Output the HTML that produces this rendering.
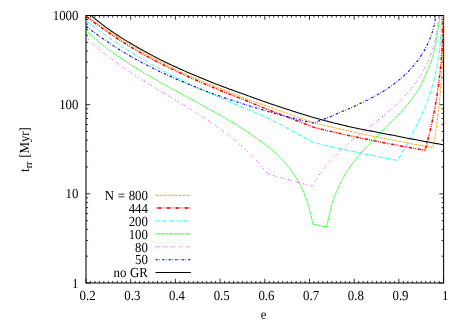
<!DOCTYPE html>
<html><head><meta charset="utf-8"><title>plot</title>
<style>
html,body{margin:0;padding:0;background:#fff;width:463px;height:324px;overflow:hidden}
.t{font-family:"Liberation Serif",serif;font-size:13.8px;text-rendering:geometricPrecision;word-spacing:0.55px;fill:#000}
</style></head><body>
<svg width="463" height="324" viewBox="0 0 463 324" style="position:absolute;left:0;top:0;will-change:transform">
<rect x="0" y="0" width="463" height="324" fill="#fff"/>
<defs><clipPath id="c"><rect x="86.0" y="15.5" width="357.6" height="267.5"/></clipPath></defs>
<path d="M155.5 195.3 L190.9 195.3" fill="none" stroke="#ffa500" stroke-width="1.0" stroke-dasharray="2.8 1.1" />
<text transform="translate(147.90 200.00) scale(0.93 1)" text-anchor="end" class="t">N = 800</text>
<path d="M155.2 207.9 H190.9" stroke="#ff0000" stroke-opacity="0.28" stroke-width="1.9" fill="none"/>
<path d="M155.2 207.9 H190.9" stroke="#ff0000" stroke-width="1.5" stroke-dasharray="3.4 5.6" stroke-dashoffset="6.4" fill="none"/>
<text transform="translate(147.90 212.60) scale(0.93 1)" text-anchor="end" class="t">444</text>
<path d="M155.5 221.05 L190.9 221.05" fill="none" stroke="#00ffff" stroke-width="1.0" stroke-dasharray="3.9 1.25 0.7 1.23" />
<text transform="translate(147.90 225.75) scale(0.93 1)" text-anchor="end" class="t">200</text>
<path d="M155.5 233.9 L190.9 233.9" fill="none" stroke="#00ff00" stroke-width="0.9" stroke-dasharray="2.0 0.7" />
<text transform="translate(147.90 238.60) scale(0.93 1)" text-anchor="end" class="t">100</text>
<path d="M155.5 246.8 L190.9 246.8" fill="none" stroke="#ff00ff" stroke-width="0.95" stroke-dasharray="0.9 1.7 0.9 4.3" />
<text transform="translate(147.90 251.50) scale(0.93 1)" text-anchor="end" class="t">80</text>
<path d="M155.5 259.7 L190.9 259.7" fill="none" stroke="#0000ff" stroke-width="1.1" stroke-dasharray="2.5 1.3 0.7 2.0" />
<text transform="translate(147.90 264.40) scale(0.93 1)" text-anchor="end" class="t">50</text>
<path d="M155.5 272.45 L190.9 272.45" fill="none" stroke="#000000" stroke-width="1.05"  />
<text transform="translate(147.90 277.15) scale(0.93 1)" text-anchor="end" class="t">no GR</text>
<path d="M86.0 15.0 V283.5 M443.6 15.0 V283.5 M85.5 15.5 H444.1 M85.5 283.0 H444.1" fill="none" stroke="#000" stroke-width="1.05"/>
<path d="M86.00 283.0 v-4.2 M86.00 15.5 v4.2 M90.47 283.0 v-2.1 M90.47 15.5 v2.1 M94.94 283.0 v-2.1 M94.94 15.5 v2.1 M99.41 283.0 v-2.1 M99.41 15.5 v2.1 M103.88 283.0 v-2.1 M103.88 15.5 v2.1 M108.35 283.0 v-2.1 M108.35 15.5 v2.1 M112.82 283.0 v-2.1 M112.82 15.5 v2.1 M117.29 283.0 v-2.1 M117.29 15.5 v2.1 M121.76 283.0 v-2.1 M121.76 15.5 v2.1 M126.23 283.0 v-2.1 M126.23 15.5 v2.1 M130.70 283.0 v-4.2 M130.70 15.5 v4.2 M135.17 283.0 v-2.1 M135.17 15.5 v2.1 M139.64 283.0 v-2.1 M139.64 15.5 v2.1 M144.11 283.0 v-2.1 M144.11 15.5 v2.1 M148.58 283.0 v-2.1 M148.58 15.5 v2.1 M153.05 283.0 v-2.1 M153.05 15.5 v2.1 M157.52 283.0 v-2.1 M157.52 15.5 v2.1 M161.99 283.0 v-2.1 M161.99 15.5 v2.1 M166.46 283.0 v-2.1 M166.46 15.5 v2.1 M170.93 283.0 v-2.1 M170.93 15.5 v2.1 M175.40 283.0 v-4.2 M175.40 15.5 v4.2 M179.87 283.0 v-2.1 M179.87 15.5 v2.1 M184.34 283.0 v-2.1 M184.34 15.5 v2.1 M188.81 283.0 v-2.1 M188.81 15.5 v2.1 M193.28 283.0 v-2.1 M193.28 15.5 v2.1 M197.75 283.0 v-2.1 M197.75 15.5 v2.1 M202.22 283.0 v-2.1 M202.22 15.5 v2.1 M206.69 283.0 v-2.1 M206.69 15.5 v2.1 M211.16 283.0 v-2.1 M211.16 15.5 v2.1 M215.63 283.0 v-2.1 M215.63 15.5 v2.1 M220.10 283.0 v-4.2 M220.10 15.5 v4.2 M224.57 283.0 v-2.1 M224.57 15.5 v2.1 M229.04 283.0 v-2.1 M229.04 15.5 v2.1 M233.51 283.0 v-2.1 M233.51 15.5 v2.1 M237.98 283.0 v-2.1 M237.98 15.5 v2.1 M242.45 283.0 v-2.1 M242.45 15.5 v2.1 M246.92 283.0 v-2.1 M246.92 15.5 v2.1 M251.39 283.0 v-2.1 M251.39 15.5 v2.1 M255.86 283.0 v-2.1 M255.86 15.5 v2.1 M260.33 283.0 v-2.1 M260.33 15.5 v2.1 M264.80 283.0 v-4.2 M264.80 15.5 v4.2 M269.27 283.0 v-2.1 M269.27 15.5 v2.1 M273.74 283.0 v-2.1 M273.74 15.5 v2.1 M278.21 283.0 v-2.1 M278.21 15.5 v2.1 M282.68 283.0 v-2.1 M282.68 15.5 v2.1 M287.15 283.0 v-2.1 M287.15 15.5 v2.1 M291.62 283.0 v-2.1 M291.62 15.5 v2.1 M296.09 283.0 v-2.1 M296.09 15.5 v2.1 M300.56 283.0 v-2.1 M300.56 15.5 v2.1 M305.03 283.0 v-2.1 M305.03 15.5 v2.1 M309.50 283.0 v-4.2 M309.50 15.5 v4.2 M313.97 283.0 v-2.1 M313.97 15.5 v2.1 M318.44 283.0 v-2.1 M318.44 15.5 v2.1 M322.91 283.0 v-2.1 M322.91 15.5 v2.1 M327.38 283.0 v-2.1 M327.38 15.5 v2.1 M331.85 283.0 v-2.1 M331.85 15.5 v2.1 M336.32 283.0 v-2.1 M336.32 15.5 v2.1 M340.79 283.0 v-2.1 M340.79 15.5 v2.1 M345.26 283.0 v-2.1 M345.26 15.5 v2.1 M349.73 283.0 v-2.1 M349.73 15.5 v2.1 M354.20 283.0 v-4.2 M354.20 15.5 v4.2 M358.67 283.0 v-2.1 M358.67 15.5 v2.1 M363.14 283.0 v-2.1 M363.14 15.5 v2.1 M367.61 283.0 v-2.1 M367.61 15.5 v2.1 M372.08 283.0 v-2.1 M372.08 15.5 v2.1 M376.55 283.0 v-2.1 M376.55 15.5 v2.1 M381.02 283.0 v-2.1 M381.02 15.5 v2.1 M385.49 283.0 v-2.1 M385.49 15.5 v2.1 M389.96 283.0 v-2.1 M389.96 15.5 v2.1 M394.43 283.0 v-2.1 M394.43 15.5 v2.1 M398.90 283.0 v-4.2 M398.90 15.5 v4.2 M403.37 283.0 v-2.1 M403.37 15.5 v2.1 M407.84 283.0 v-2.1 M407.84 15.5 v2.1 M412.31 283.0 v-2.1 M412.31 15.5 v2.1 M416.78 283.0 v-2.1 M416.78 15.5 v2.1 M421.25 283.0 v-2.1 M421.25 15.5 v2.1 M425.72 283.0 v-2.1 M425.72 15.5 v2.1 M430.19 283.0 v-2.1 M430.19 15.5 v2.1 M434.66 283.0 v-2.1 M434.66 15.5 v2.1 M439.13 283.0 v-2.1 M439.13 15.5 v2.1 M443.60 283.0 v-4.2 M443.60 15.5 v4.2 M86.0 283.00 h4.2 M443.6 283.00 h-4.2 M86.0 256.16 h2.1 M443.6 256.16 h-2.1 M86.0 240.46 h2.1 M443.6 240.46 h-2.1 M86.0 229.32 h2.1 M443.6 229.32 h-2.1 M86.0 220.68 h2.1 M443.6 220.68 h-2.1 M86.0 213.61 h2.1 M443.6 213.61 h-2.1 M86.0 207.65 h2.1 M443.6 207.65 h-2.1 M86.0 202.47 h2.1 M443.6 202.47 h-2.1 M86.0 197.91 h2.1 M443.6 197.91 h-2.1 M86.0 193.83 h4.2 M443.6 193.83 h-4.2 M86.0 166.99 h2.1 M443.6 166.99 h-2.1 M86.0 151.29 h2.1 M443.6 151.29 h-2.1 M86.0 140.15 h2.1 M443.6 140.15 h-2.1 M86.0 131.51 h2.1 M443.6 131.51 h-2.1 M86.0 124.45 h2.1 M443.6 124.45 h-2.1 M86.0 118.48 h2.1 M443.6 118.48 h-2.1 M86.0 113.31 h2.1 M443.6 113.31 h-2.1 M86.0 108.75 h2.1 M443.6 108.75 h-2.1 M86.0 104.67 h4.2 M443.6 104.67 h-4.2 M86.0 77.82 h2.1 M443.6 77.82 h-2.1 M86.0 62.12 h2.1 M443.6 62.12 h-2.1 M86.0 50.98 h2.1 M443.6 50.98 h-2.1 M86.0 42.34 h2.1 M443.6 42.34 h-2.1 M86.0 35.28 h2.1 M443.6 35.28 h-2.1 M86.0 29.31 h2.1 M443.6 29.31 h-2.1 M86.0 24.14 h2.1 M443.6 24.14 h-2.1 M86.0 19.58 h2.1 M443.6 19.58 h-2.1 M86.0 15.50 h4.2 M443.6 15.50 h-4.2" stroke="#000" stroke-width="0.8" fill="none"/>
<g clip-path="url(#c)">
<path d="M86.50 16.30 L87.71 17.14 L88.92 17.98 L90.14 18.82 L91.35 19.65 L92.56 20.47 L93.77 21.29 L94.99 22.11 L96.20 22.92 L97.41 23.72 L98.62 24.52 L99.84 25.32 L101.05 26.11 L102.26 26.89 L103.47 27.67 L104.68 28.44 L105.90 29.26 L107.11 30.08 L108.32 30.89 L109.53 31.71 L110.75 32.51 L111.96 33.32 L113.17 34.11 L114.38 34.90 L115.60 35.69 L116.81 36.48 L118.02 37.25 L119.23 38.03 L120.44 38.80 L121.66 39.56 L122.87 40.32 L124.08 41.07 L125.29 41.82 L126.51 42.57 L127.72 43.31 L128.93 44.05 L130.14 44.78 L131.36 45.51 L132.57 46.23 L133.78 46.95 L134.99 47.66 L136.20 48.37 L137.42 49.07 L138.63 49.77 L139.84 50.46 L141.05 51.15 L142.27 51.83 L143.48 52.51 L144.69 53.19 L145.90 53.86 L147.11 54.53 L148.33 55.20 L149.54 55.86 L150.75 56.51 L151.96 57.17 L153.18 57.82 L154.39 58.46 L155.60 59.10 L156.81 59.74 L158.03 60.37 L159.24 61.00 L160.45 61.63 L161.66 62.25 L162.87 62.87 L164.09 63.49 L165.30 64.11 L166.51 64.76 L167.72 65.40 L168.94 66.04 L170.15 66.68 L171.36 67.31 L172.57 67.94 L173.79 68.56 L175.00 69.19 L176.21 69.81 L177.42 70.42 L178.63 71.04 L179.85 71.65 L181.06 72.19 L182.27 72.73 L183.48 73.26 L184.70 73.79 L185.91 74.31 L187.12 74.83 L188.33 75.35 L189.55 75.87 L190.76 76.38 L191.97 76.90 L193.18 77.41 L194.39 77.91 L195.61 78.42 L196.82 78.92 L198.03 79.42 L199.24 79.92 L200.46 80.41 L201.67 80.91 L202.88 81.40 L204.09 81.89 L205.31 82.38 L206.52 82.86 L207.73 83.34 L208.94 83.83 L210.15 84.31 L211.37 84.78 L212.58 85.26 L213.79 85.73 L215.00 86.20 L216.22 86.71 L217.43 87.21 L218.64 87.71 L219.85 88.21 L221.07 88.71 L222.28 89.21 L223.49 89.70 L224.70 90.19 L225.91 90.69 L227.13 91.18 L228.34 91.67 L229.55 92.15 L230.76 92.64 L231.98 93.13 L233.19 93.61 L234.40 94.09 L235.61 94.58 L236.83 95.06 L238.04 95.54 L239.25 96.01 L240.46 96.49 L241.67 96.97 L242.89 97.44 L244.10 97.92 L245.31 98.38 L246.52 98.82 L247.74 99.26 L248.95 99.70 L250.16 100.14 L251.37 100.57 L252.59 101.01 L253.80 101.44 L255.01 101.87 L256.22 102.31 L257.43 102.74 L258.65 103.17 L259.86 103.60 L261.07 104.03 L262.28 104.46 L263.50 104.89 L264.71 105.32 L265.92 105.74 L267.13 106.17 L268.34 106.60 L269.56 107.04 L270.77 107.48 L271.98 107.93 L273.19 108.37 L274.41 108.81 L275.62 109.24 L276.83 109.68 L278.04 110.12 L279.26 110.56 L280.47 111.00 L281.68 111.43 L282.89 111.87 L284.10 112.31 L285.32 112.74 L286.53 113.18 L287.74 113.61 L288.95 114.04 L290.17 114.48 L291.38 114.91 L292.59 115.34 L293.80 115.77 L295.02 116.21 L296.23 116.64 L297.44 117.07 L298.65 117.49 L299.86 117.90 L301.08 118.31 L302.29 118.72 L303.50 119.13 L304.71 119.55 L305.93 119.95 L307.14 120.36 L308.35 120.77 L309.56 121.18 L310.78 121.59 L311.99 121.99 L313.20 122.40 L314.42 122.73 L315.65 123.06 L316.87 123.38 L318.09 123.71 L319.32 124.03 L320.54 124.36 L321.76 124.68 L322.99 125.00 L324.21 125.32 L325.43 125.64 L326.66 125.96 L327.88 126.27 L329.11 126.55 L330.33 126.83 L331.55 127.11 L332.78 127.38 L334.00 127.66 L335.22 127.93 L336.45 128.20 L337.67 128.47 L338.89 128.74 L340.12 129.01 L341.34 129.27 L342.56 129.54 L343.79 129.80 L345.01 130.07 L346.23 130.35 L347.46 130.63 L348.68 130.91 L349.90 131.19 L351.13 131.47 L352.35 131.75 L353.57 132.02 L354.80 132.30 L356.02 132.57 L357.24 132.84 L358.47 133.11 L359.69 133.39 L360.92 133.65 L362.14 133.92 L363.36 134.19 L364.59 134.45 L365.81 134.72 L367.03 134.98 L368.26 135.24 L369.48 135.51 L370.70 135.77 L371.93 136.02 L373.15 136.28 L374.37 136.54 L375.60 136.79 L376.82 137.03 L378.04 137.28 L379.27 137.52 L380.49 137.76 L381.71 138.00 L382.94 138.24 L384.16 138.47 L385.38 138.71 L386.61 138.95 L387.83 139.18 L389.06 139.41 L390.28 139.64 L391.50 139.87 L392.73 140.10 L393.95 140.33 L395.17 140.56 L396.40 140.80 L397.62 141.05 L398.84 141.29 L400.07 141.53 L401.29 141.77 L402.51 142.01 L403.74 142.25 L404.96 142.48 L406.18 142.72 L407.41 142.95 L408.63 143.18 L409.85 143.42 L411.08 143.65 L412.30 143.88 L413.52 144.10 L414.75 144.33 L415.97 144.56 L417.19 144.78 L418.42 145.01 L419.64 145.23 L420.87 145.45 L422.09 145.67 L423.31 145.89 L424.54 146.11 L425.76 146.32 L426.98 146.54 L428.21 146.75 L429.43 146.97 L430.65 147.18 L431.88 147.39 L433.10 147.60 L433.31 146.41 L433.53 145.21 L433.74 144.02 L433.94 142.82 L434.14 141.62 L434.35 140.43 L434.54 139.23 L434.74 138.03 L434.93 136.83 L435.12 135.64 L435.31 134.44 L435.49 133.24 L435.67 132.04 L435.85 130.84 L436.03 129.64 L436.20 128.44 L436.38 127.24 L436.55 126.04 L436.71 124.84 L436.88 123.64 L437.04 122.44 L437.20 121.24 L437.35 120.03 L437.51 118.83 L437.66 117.63 L437.81 116.43 L437.96 115.22 L438.10 114.02 L438.24 112.81 L438.38 111.61 L438.52 110.41 L438.66 109.20 L438.79 108.00 L438.92 106.79 L439.05 105.59 L439.17 104.38 L439.30 103.17 L439.42 101.97 L439.54 100.76 L439.66 99.56 L439.77 98.35 L439.89 97.14 L440.00 95.93 L440.11 94.73 L440.21 93.52 L440.32 92.31 L440.42 91.10 L440.52 89.90 L440.62 88.69 L440.72 87.48 L440.81 86.27 L440.91 85.06 L441.00 83.85 L441.09 82.64 L441.17 81.43 L441.26 80.22 L441.34 79.01 L441.42 77.80 L441.50 76.59 L441.58 75.38 L441.66 74.17 L441.73 72.96 L441.80 71.75 L441.87 70.54 L441.94 69.33 L442.01 68.12 L442.08 66.91 L442.14 65.70 L442.20 64.49 L442.26 63.28 L442.32 62.06 L442.38 60.85 L442.43 59.64 L442.49 58.43 L442.54 57.22 L442.59 56.01 L442.64 54.79 L442.69 53.58 L442.73 52.37 L442.78 51.16 L442.82 49.94 L442.86 48.73 L442.90 47.52 L442.94 46.31 L442.98 45.10 L443.02 43.88 L443.05 42.67 L443.08 41.46 L443.12 40.25 L443.15 39.03 L443.18 37.82 L443.20 36.61 L443.23 35.40 L443.26 34.18 L443.28 32.97 L443.30 31.76 L443.33 30.55 L443.35 29.33 L443.37 28.12 L443.38 26.91 L443.40 25.70 L443.42 24.48 L443.43 23.27 L443.45 22.06 L443.46 20.85 L443.47 19.64 L443.48 18.42 L443.49 17.21 L443.50 16.00" fill="none" stroke="#ffa500" stroke-width="1.0" stroke-dasharray="2.8 1.1" />
<path d="M86.50 16.50 L87.71 17.46 L88.92 18.42 L90.14 19.36 L91.35 20.29 L92.56 21.21 L93.77 22.13 L94.99 23.03 L96.20 23.92 L97.41 24.80 L98.62 25.68 L99.84 26.54 L101.05 27.40 L102.26 28.25 L103.47 29.09 L104.68 29.92 L105.90 30.77 L107.11 31.64 L108.32 32.49 L109.53 33.33 L110.75 34.17 L111.96 35.00 L113.17 35.83 L114.38 36.64 L115.60 37.45 L116.81 38.25 L118.02 39.05 L119.23 39.84 L120.44 40.62 L121.66 41.40 L122.87 42.17 L124.08 42.93 L125.29 43.69 L126.51 44.44 L127.72 45.19 L128.93 45.93 L130.14 46.66 L131.36 47.39 L132.57 48.12 L133.78 48.84 L134.99 49.55 L136.20 50.26 L137.42 50.96 L138.63 51.66 L139.84 52.35 L141.05 53.03 L142.27 53.72 L143.48 54.39 L144.69 55.07 L145.90 55.74 L147.11 56.40 L148.33 57.06 L149.54 57.72 L150.75 58.37 L151.96 59.01 L153.18 59.66 L154.39 60.29 L155.60 60.93 L156.81 61.56 L158.03 62.18 L159.24 62.81 L160.45 63.43 L161.66 64.04 L162.87 64.66 L164.09 65.27 L165.30 65.87 L166.51 66.48 L167.72 67.08 L168.94 67.68 L170.15 68.27 L171.36 68.86 L172.57 69.45 L173.79 70.04 L175.00 70.62 L176.21 71.20 L177.42 71.78 L178.63 72.35 L179.85 72.93 L181.06 73.49 L182.27 74.04 L183.48 74.60 L184.70 75.15 L185.91 75.70 L187.12 76.25 L188.33 76.79 L189.55 77.33 L190.76 77.87 L191.97 78.41 L193.18 78.95 L194.39 79.48 L195.61 80.01 L196.82 80.54 L198.03 81.07 L199.24 81.60 L200.46 82.12 L201.67 82.64 L202.88 83.16 L204.09 83.68 L205.31 84.19 L206.52 84.71 L207.73 85.22 L208.94 85.73 L210.15 86.23 L211.37 86.74 L212.58 87.25 L213.79 87.75 L215.00 88.25 L216.22 88.75 L217.43 89.24 L218.64 89.74 L219.85 90.23 L221.07 90.72 L222.28 91.21 L223.49 91.70 L224.70 92.19 L225.91 92.67 L227.13 93.15 L228.34 93.64 L229.55 94.12 L230.76 94.60 L231.98 95.08 L233.19 95.55 L234.40 96.03 L235.61 96.50 L236.83 96.98 L238.04 97.45 L239.25 97.92 L240.46 98.39 L241.67 98.86 L242.89 99.33 L244.10 99.80 L245.31 100.28 L246.52 100.79 L247.74 101.30 L248.95 101.81 L250.16 102.31 L251.37 102.82 L252.59 103.33 L253.80 103.83 L255.01 104.34 L256.22 104.85 L257.43 105.35 L258.65 105.85 L259.86 106.36 L261.07 106.86 L262.28 107.37 L263.50 107.87 L264.71 108.37 L265.92 108.88 L267.13 109.38 L268.34 109.87 L269.56 110.32 L270.77 110.78 L271.98 111.23 L273.19 111.69 L274.41 112.14 L275.62 112.60 L276.83 113.05 L278.04 113.51 L279.26 113.97 L280.47 114.43 L281.68 114.89 L282.89 115.35 L284.10 115.81 L285.32 116.27 L286.53 116.74 L287.74 117.20 L288.95 117.67 L290.17 118.13 L291.38 118.60 L292.59 119.07 L293.80 119.55 L295.02 120.02 L296.23 120.50 L297.44 120.98 L298.65 121.44 L299.86 121.90 L301.08 122.36 L302.29 122.82 L303.50 123.28 L304.71 123.75 L305.93 124.21 L307.14 124.69 L308.35 125.16 L309.56 125.64 L310.78 126.12 L311.99 126.61 L313.20 127.10 L314.42 127.43 L315.63 127.75 L316.85 128.07 L318.06 128.39 L319.28 128.71 L320.49 129.02 L321.71 129.32 L322.92 129.61 L324.14 129.90 L325.35 130.19 L326.57 130.48 L327.78 130.76 L329.00 131.05 L330.21 131.33 L331.43 131.61 L332.64 131.89 L333.86 132.17 L335.07 132.45 L336.29 132.73 L337.50 133.01 L338.72 133.28 L339.93 133.55 L341.15 133.83 L342.37 134.10 L343.58 134.37 L344.80 134.63 L346.01 134.90 L347.23 135.17 L348.44 135.44 L349.66 135.71 L350.87 135.97 L352.09 136.24 L353.30 136.50 L354.52 136.76 L355.73 137.02 L356.95 137.28 L358.16 137.54 L359.38 137.79 L360.59 138.05 L361.81 138.30 L363.02 138.56 L364.24 138.81 L365.45 139.06 L366.67 139.30 L367.88 139.55 L369.10 139.80 L370.32 140.04 L371.53 140.28 L372.75 140.53 L373.96 140.77 L375.18 141.01 L376.39 141.25 L377.61 141.50 L378.82 141.74 L380.04 141.98 L381.25 142.22 L382.47 142.46 L383.68 142.70 L384.90 142.94 L386.11 143.17 L387.33 143.40 L388.54 143.64 L389.76 143.87 L390.97 144.10 L392.19 144.33 L393.40 144.55 L394.62 144.78 L395.83 145.01 L397.05 145.24 L398.27 145.47 L399.48 145.70 L400.70 145.93 L401.91 146.15 L403.13 146.38 L404.34 146.60 L405.56 146.82 L406.77 147.05 L407.99 147.27 L409.20 147.48 L410.42 147.70 L411.63 147.92 L412.85 148.13 L414.06 148.34 L415.28 148.55 L416.49 148.76 L417.71 148.97 L418.92 149.18 L420.14 149.39 L421.35 149.59 L422.57 149.80 L423.78 150.00 L425.00 150.20 L425.33 149.33 L425.66 148.16 L425.98 146.98 L426.30 145.81 L426.62 144.63 L426.93 143.46 L427.24 142.28 L427.55 141.10 L427.85 139.93 L428.15 138.75 L428.45 137.57 L428.74 136.39 L429.04 135.21 L429.32 134.03 L429.61 132.85 L429.89 131.67 L430.17 130.48 L430.44 129.30 L430.72 128.12 L430.99 126.93 L431.25 125.75 L431.52 124.56 L431.78 123.37 L432.03 122.19 L432.29 121.00 L432.54 119.81 L432.78 118.62 L433.03 117.43 L433.27 116.24 L433.51 115.05 L433.74 113.86 L433.98 112.67 L434.20 111.48 L434.43 110.28 L434.65 109.09 L434.87 107.90 L435.09 106.70 L435.30 105.51 L435.51 104.31 L435.72 103.12 L435.93 101.92 L436.13 100.72 L436.33 99.52 L436.52 98.33 L436.71 97.13 L436.90 95.93 L437.09 94.73 L437.27 93.53 L437.46 92.33 L437.63 91.13 L437.81 89.93 L437.98 88.73 L438.15 87.52 L438.31 86.32 L438.48 85.12 L438.64 83.91 L438.79 82.71 L438.95 81.51 L439.10 80.30 L439.24 79.10 L439.39 77.89 L439.53 76.68 L439.67 75.48 L439.81 74.27 L439.94 73.06 L440.07 71.86 L440.20 70.65 L440.32 69.44 L440.44 68.23 L440.56 67.02 L440.68 65.81 L440.79 64.60 L440.90 63.39 L441.01 62.18 L441.11 60.97 L441.21 59.76 L441.31 58.55 L441.41 57.34 L441.50 56.13 L441.59 54.92 L441.68 53.70 L441.76 52.49 L441.85 51.28 L441.92 50.06 L442.00 48.85 L442.07 47.64 L442.14 46.42 L442.21 45.21 L442.28 43.99 L442.34 42.78 L442.40 41.56 L442.45 40.35 L442.51 39.13 L442.56 37.92 L442.60 36.70 L442.65 35.48 L442.69 34.27 L442.73 33.05 L442.77 31.83 L442.80 30.62 L442.83 29.40 L442.86 28.18 L442.89 26.97 L442.91 25.75 L442.93 24.53 L442.95 23.31 L442.97 22.09 L442.98 20.87 L442.99 19.66 L442.99 18.44 L443.00 17.22 L443.00 16.00" fill="none" stroke="#ff0000" stroke-width="1.5" stroke-dasharray="3.4 1.2 0.9 1.1 0.9 1.5" />
<path d="M86.10 20.80 L87.31 21.80 L88.52 22.78 L89.73 23.75 L90.94 24.71 L92.15 25.65 L93.36 26.58 L94.57 27.50 L95.78 28.41 L96.99 29.30 L98.20 30.19 L99.41 31.07 L100.61 31.93 L101.82 32.79 L103.03 33.64 L104.24 34.48 L105.45 35.32 L106.66 36.17 L107.87 37.01 L109.08 37.85 L110.29 38.68 L111.50 39.51 L112.71 40.33 L113.92 41.14 L115.13 41.95 L116.34 42.75 L117.55 43.55 L118.76 44.34 L119.97 45.13 L121.18 45.92 L122.39 46.70 L123.60 47.48 L124.81 48.25 L126.02 49.01 L127.23 49.76 L128.44 50.51 L129.64 51.26 L130.85 52.00 L132.06 52.74 L133.27 53.48 L134.48 54.21 L135.69 54.94 L136.90 55.67 L138.11 56.39 L139.32 57.11 L140.53 57.83 L141.74 58.54 L142.95 59.26 L144.16 59.97 L145.37 60.67 L146.58 61.37 L147.79 62.07 L149.00 62.77 L150.21 63.47 L151.42 64.17 L152.63 64.86 L153.84 65.56 L155.05 66.25 L156.26 66.93 L157.46 67.62 L158.67 68.30 L159.88 68.98 L161.09 69.65 L162.30 70.32 L163.51 70.99 L164.72 71.65 L165.93 72.32 L167.14 72.97 L168.35 73.63 L169.56 74.28 L170.77 74.92 L171.98 75.57 L173.19 76.21 L174.40 76.84 L175.61 77.46 L176.82 78.07 L178.03 78.68 L179.24 79.28 L180.45 79.88 L181.66 80.47 L182.87 81.06 L184.08 81.65 L185.29 82.23 L186.49 82.81 L187.70 83.39 L188.91 83.96 L190.12 84.53 L191.33 85.09 L192.54 85.66 L193.75 86.22 L194.96 86.77 L196.17 87.32 L197.38 87.87 L198.59 88.42 L199.80 88.96 L201.01 89.50 L202.22 90.04 L203.43 90.58 L204.64 91.11 L205.85 91.64 L207.06 92.16 L208.27 92.69 L209.48 93.21 L210.69 93.73 L211.90 94.25 L213.11 94.76 L214.31 95.28 L215.52 95.79 L216.73 96.31 L217.94 96.83 L219.15 97.35 L220.36 97.87 L221.57 98.38 L222.78 98.90 L223.99 99.41 L225.20 99.92 L226.41 100.44 L227.62 100.95 L228.83 101.46 L230.04 101.97 L231.25 102.48 L232.46 103.00 L233.67 103.51 L234.88 104.02 L236.09 104.54 L237.30 105.05 L238.51 105.57 L239.72 106.08 L240.93 106.60 L242.14 107.12 L243.34 107.65 L244.55 108.17 L245.76 108.68 L246.97 109.18 L248.18 109.68 L249.39 110.18 L250.60 110.68 L251.81 111.19 L253.02 111.70 L254.23 112.22 L255.44 112.74 L256.65 113.26 L257.86 113.78 L259.07 114.31 L260.28 114.84 L261.49 115.38 L262.70 115.92 L263.91 116.46 L265.12 117.01 L266.33 117.56 L267.54 118.11 L268.75 118.69 L269.96 119.28 L271.16 119.88 L272.37 120.47 L273.58 121.08 L274.79 121.68 L276.00 122.30 L277.21 122.91 L278.42 123.53 L279.63 124.16 L280.84 124.79 L282.05 125.42 L283.26 126.05 L284.47 126.69 L285.68 127.34 L286.89 127.99 L288.10 128.64 L289.31 129.29 L290.52 129.95 L291.73 130.60 L292.94 131.27 L294.15 131.93 L295.36 132.59 L296.57 133.26 L297.78 133.93 L298.99 134.60 L300.19 135.27 L301.40 135.93 L302.61 136.60 L303.82 137.27 L305.03 137.93 L306.24 138.60 L307.45 139.26 L308.66 139.92 L309.87 140.57 L311.08 141.22 L312.29 141.86 L313.50 142.50 L314.72 142.79 L315.94 143.08 L317.16 143.37 L318.38 143.66 L319.60 143.95 L320.82 144.24 L322.04 144.52 L323.26 144.81 L324.48 145.09 L325.70 145.38 L326.92 145.66 L328.14 145.94 L329.36 146.22 L330.58 146.50 L331.80 146.78 L333.02 147.06 L334.24 147.34 L335.47 147.61 L336.69 147.89 L337.91 148.16 L339.13 148.44 L340.35 148.71 L341.57 148.98 L342.79 149.25 L344.01 149.52 L345.23 149.79 L346.45 150.06 L347.67 150.32 L348.89 150.59 L350.11 150.86 L351.33 151.12 L352.55 151.38 L353.77 151.65 L354.99 151.91 L356.21 152.17 L357.43 152.43 L358.65 152.69 L359.87 152.95 L361.09 153.20 L362.31 153.46 L363.53 153.72 L364.75 153.97 L365.97 154.22 L367.19 154.48 L368.41 154.73 L369.63 154.98 L370.85 155.23 L372.07 155.48 L373.29 155.73 L374.51 155.97 L375.73 156.22 L376.96 156.47 L378.18 156.71 L379.40 156.95 L380.62 157.20 L381.84 157.44 L383.06 157.68 L384.28 157.92 L385.50 158.16 L386.72 158.40 L387.94 158.63 L389.16 158.87 L390.38 159.11 L391.60 159.34 L392.82 159.57 L394.04 159.81 L395.26 160.04 L396.48 160.27 L397.70 160.50 L398.29 159.44 L398.89 158.38 L399.48 157.33 L400.07 156.27 L400.67 155.21 L401.26 154.15 L401.85 153.09 L402.45 152.03 L403.04 150.96 L403.63 149.90 L404.22 148.84 L404.81 147.77 L405.40 146.71 L405.99 145.64 L406.58 144.57 L407.16 143.51 L407.75 142.44 L408.33 141.37 L408.91 140.29 L409.49 139.22 L410.06 138.15 L410.64 137.07 L411.21 136.00 L411.78 134.92 L412.35 133.84 L412.91 132.76 L413.47 131.68 L414.03 130.60 L414.58 129.52 L415.14 128.43 L415.68 127.34 L416.23 126.26 L416.77 125.17 L417.31 124.07 L417.84 122.98 L418.37 121.89 L418.90 120.79 L419.42 119.69 L419.93 118.59 L420.45 117.49 L420.95 116.39 L421.46 115.28 L421.95 114.18 L422.45 113.07 L422.93 111.96 L423.41 110.85 L423.89 109.73 L424.36 108.61 L424.83 107.50 L425.29 106.37 L425.74 105.25 L426.19 104.13 L426.63 103.00 L427.06 101.87 L427.49 100.74 L427.91 99.60 L428.32 98.47 L428.73 97.33 L429.13 96.19 L429.52 95.04 L429.91 93.90 L430.29 92.75 L430.66 91.60 L431.02 90.45 L431.38 89.29 L431.73 88.13 L432.07 86.97 L432.41 85.81 L432.74 84.65 L433.06 83.48 L433.38 82.31 L433.69 81.14 L433.99 79.97 L434.29 78.80 L434.58 77.62 L434.86 76.45 L435.14 75.27 L435.41 74.08 L435.67 72.90 L435.93 71.72 L436.18 70.53 L436.42 69.34 L436.66 68.15 L436.89 66.96 L437.12 65.77 L437.34 64.58 L437.55 63.38 L437.76 62.18 L437.96 60.99 L438.16 59.79 L438.34 58.58 L438.53 57.38 L438.70 56.18 L438.88 54.97 L439.04 53.77 L439.20 52.56 L439.36 51.35 L439.50 50.14 L439.65 48.93 L439.78 47.72 L439.92 46.51 L440.04 45.30 L440.16 44.08 L440.28 42.87 L440.39 41.65 L440.49 40.44 L440.59 39.22 L440.68 38.00 L440.77 36.78 L440.85 35.56 L440.93 34.34 L441.00 33.12 L441.07 31.90 L441.13 30.68 L441.19 29.46 L441.24 28.24 L441.29 27.01 L441.33 25.79 L441.37 24.57 L441.40 23.34 L441.43 22.12 L441.45 20.90 L441.47 19.67 L441.49 18.45 L441.50 17.22 L441.50 16.00" fill="none" stroke="#00ffff" stroke-width="1.0" stroke-dasharray="3.9 1.25 0.7 1.23" />
<path d="M86.10 30.50 L86.99 31.33 L87.88 32.16 L88.77 32.98 L89.67 33.80 L90.57 34.61 L91.48 35.42 L92.39 36.22 L93.30 37.02 L94.22 37.81 L95.13 38.60 L96.06 39.38 L96.98 40.16 L97.91 40.94 L98.84 41.71 L99.77 42.47 L100.71 43.23 L101.65 43.99 L102.59 44.74 L103.54 45.49 L104.49 46.23 L105.44 46.97 L106.39 47.71 L107.35 48.44 L108.31 49.17 L109.27 49.89 L110.24 50.61 L111.21 51.33 L112.18 52.04 L113.15 52.75 L114.13 53.46 L115.11 54.16 L116.09 54.86 L117.07 55.55 L118.06 56.24 L119.04 56.93 L120.03 57.61 L121.03 58.29 L122.02 58.97 L123.02 59.65 L124.02 60.32 L125.02 60.99 L126.02 61.65 L127.03 62.31 L128.03 62.97 L129.04 63.63 L130.05 64.28 L131.07 64.93 L132.08 65.58 L133.10 66.23 L134.12 66.87 L135.14 67.51 L136.16 68.15 L137.19 68.78 L138.21 69.41 L139.24 70.04 L140.27 70.67 L141.30 71.30 L142.33 71.92 L143.36 72.54 L144.40 73.16 L145.44 73.78 L146.47 74.39 L147.51 75.00 L148.55 75.61 L149.60 76.22 L150.64 76.83 L151.68 77.44 L152.73 78.04 L153.77 78.64 L154.82 79.24 L155.87 79.84 L156.92 80.44 L157.97 81.03 L159.02 81.63 L160.08 82.22 L161.13 82.81 L162.18 83.40 L163.24 83.99 L164.29 84.58 L165.35 85.17 L166.41 85.76 L167.47 86.34 L168.52 86.92 L169.58 87.51 L170.64 88.09 L171.70 88.67 L172.76 89.25 L173.83 89.83 L174.89 90.41 L175.95 90.99 L177.01 91.57 L178.07 92.15 L179.14 92.72 L180.20 93.30 L181.26 93.88 L182.33 94.45 L183.39 95.03 L184.46 95.61 L185.52 96.18 L186.58 96.76 L187.65 97.33 L188.71 97.91 L189.78 98.49 L190.84 99.06 L191.90 99.64 L192.97 100.21 L194.03 100.79 L195.09 101.37 L196.15 101.95 L197.22 102.52 L198.28 103.10 L199.34 103.68 L200.40 104.26 L201.46 104.84 L202.52 105.42 L203.58 106.00 L204.64 106.59 L205.70 107.17 L206.76 107.75 L207.81 108.34 L208.87 108.92 L209.92 109.51 L210.98 110.10 L212.03 110.69 L213.09 111.28 L214.14 111.87 L215.19 112.46 L216.24 113.06 L217.29 113.65 L218.34 114.25 L219.38 114.85 L220.43 115.45 L221.47 116.05 L222.52 116.66 L223.56 117.26 L224.60 117.87 L225.64 118.48 L226.68 119.09 L227.72 119.70 L228.75 120.32 L229.79 120.93 L230.82 121.55 L231.85 122.17 L232.88 122.80 L233.91 123.42 L234.93 124.05 L235.96 124.68 L236.98 125.31 L238.00 125.95 L239.02 126.58 L240.04 127.22 L241.06 127.87 L242.07 128.51 L243.08 129.16 L244.09 129.81 L245.10 130.46 L246.11 131.12 L247.11 131.78 L248.11 132.44 L249.11 133.10 L250.11 133.77 L251.11 134.44 L252.10 135.12 L253.09 135.79 L254.08 136.48 L255.07 137.16 L256.05 137.85 L257.03 138.54 L258.01 139.23 L258.99 139.93 L259.96 140.63 L260.93 141.34 L261.90 142.05 L262.87 142.76 L263.83 143.48 L264.78 144.20 L265.74 144.93 L266.68 145.66 L267.63 146.40 L268.56 147.14 L269.49 147.89 L270.42 148.64 L271.34 149.40 L272.25 150.17 L273.15 150.94 L274.05 151.72 L274.94 152.50 L275.82 153.30 L276.69 154.10 L277.55 154.90 L278.41 155.72 L279.25 156.54 L280.09 157.37 L280.92 158.21 L281.73 159.06 L282.54 159.91 L283.34 160.77 L284.12 161.64 L284.90 162.52 L285.67 163.40 L286.42 164.29 L287.17 165.19 L287.91 166.09 L288.63 167.01 L289.35 167.93 L290.06 168.85 L290.75 169.79 L291.44 170.73 L292.11 171.67 L292.78 172.63 L293.43 173.59 L294.08 174.55 L294.71 175.53 L295.34 176.51 L295.95 177.49 L296.55 178.48 L297.14 179.48 L297.72 180.49 L298.29 181.50 L298.85 182.51 L299.40 183.54 L299.94 184.56 L300.47 185.60 L300.99 186.64 L301.49 187.68 L301.99 188.73 L302.48 189.79 L302.96 190.85 L303.42 191.92 L303.88 193.00 L304.33 194.08 L304.77 195.16 L305.19 196.26 L305.61 197.35 L306.02 198.46 L306.42 199.56 L306.81 200.68 L307.19 201.80 L307.57 202.92 L307.93 204.05 L308.28 205.19 L308.63 206.33 L308.97 207.48 L309.29 208.63 L309.61 209.79 L309.92 210.95 L310.23 212.12 L310.52 213.30 L310.80 214.48 L311.08 215.66 L311.35 216.85 L311.61 218.05 L311.87 219.25 L312.11 220.45 L312.35 221.66 L312.58 222.88 L312.80 224.10 L326.50 227.10 L326.79 225.93 L327.07 224.76 L327.34 223.59 L327.61 222.41 L327.88 221.23 L328.14 220.05 L328.40 218.87 L328.66 217.69 L328.92 216.51 L329.18 215.33 L329.44 214.15 L329.71 212.97 L329.98 211.79 L330.26 210.61 L330.54 209.44 L330.83 208.26 L331.13 207.10 L331.44 205.93 L331.76 204.77 L332.09 203.61 L332.43 202.46 L332.79 201.31 L333.16 200.17 L333.55 199.03 L333.95 197.90 L334.38 196.78 L334.82 195.66 L335.27 194.55 L335.74 193.44 L336.21 192.34 L336.70 191.24 L337.19 190.14 L337.68 189.04 L338.18 187.94 L338.68 186.84 L339.19 185.75 L339.70 184.66 L340.22 183.57 L340.75 182.49 L341.29 181.41 L341.84 180.34 L342.40 179.27 L342.98 178.22 L343.56 177.17 L344.16 176.13 L344.76 175.09 L345.38 174.06 L346.01 173.04 L346.65 172.02 L347.30 171.02 L347.97 170.01 L348.64 169.02 L349.32 168.03 L350.00 167.04 L350.70 166.06 L351.41 165.09 L352.12 164.12 L352.85 163.16 L353.58 162.20 L354.32 161.25 L355.06 160.31 L355.81 159.37 L356.57 158.43 L357.34 157.50 L358.11 156.57 L358.89 155.64 L359.68 154.73 L360.47 153.81 L361.26 152.90 L362.06 151.99 L362.86 151.09 L363.67 150.19 L364.49 149.29 L365.30 148.40 L366.12 147.51 L366.95 146.62 L367.78 145.74 L368.61 144.85 L369.44 143.98 L370.27 143.10 L371.11 142.23 L371.95 141.35 L372.79 140.48 L373.63 139.62 L374.47 138.75 L375.32 137.89 L376.16 137.02 L377.01 136.16 L377.86 135.31 L378.71 134.45 L379.56 133.59 L380.41 132.74 L381.26 131.89 L382.12 131.04 L382.97 130.19 L383.82 129.34 L384.68 128.49 L385.53 127.65 L386.39 126.80 L387.24 125.96 L388.10 125.11 L388.95 124.27 L389.81 123.43 L390.66 122.58 L391.52 121.74 L392.37 120.90 L393.22 120.06 L394.07 119.22 L394.93 118.38 L395.77 117.53 L396.62 116.69 L397.46 115.83 L398.30 114.98 L399.14 114.12 L399.97 113.25 L400.79 112.38 L401.61 111.49 L402.42 110.60 L403.23 109.70 L404.02 108.79 L404.82 107.88 L405.60 106.95 L406.38 106.02 L407.15 105.08 L407.91 104.14 L408.67 103.19 L409.42 102.23 L410.16 101.27 L410.89 100.30 L411.62 99.33 L412.33 98.36 L413.04 97.38 L413.75 96.40 L414.44 95.41 L415.13 94.43 L415.81 93.44 L416.48 92.45 L417.13 91.45 L417.77 90.44 L418.40 89.43 L419.01 88.41 L419.60 87.37 L420.16 86.32 L420.71 85.26 L421.25 84.20 L421.77 83.12 L422.29 82.04 L422.81 80.96 L423.32 79.87 L423.83 78.78 L424.35 77.69 L424.85 76.59 L425.36 75.50 L425.86 74.40 L426.36 73.30 L426.85 72.19 L427.33 71.08 L427.81 69.97 L428.28 68.86 L428.74 67.74 L429.19 66.62 L429.63 65.50 L430.06 64.37 L430.47 63.23 L430.88 62.10 L431.27 60.96 L431.64 59.81 L432.01 58.66 L432.36 57.51 L432.70 56.36 L433.02 55.20 L433.34 54.03 L433.64 52.87 L433.94 51.70 L434.22 50.53 L434.50 49.35 L434.76 48.18 L435.02 47.00 L435.27 45.82 L435.51 44.63 L435.74 43.45 L435.96 42.26 L436.18 41.07 L436.39 39.88 L436.60 38.69 L436.80 37.50 L436.99 36.31 L437.18 35.11 L437.37 33.92 L437.55 32.72 L437.73 31.52 L437.90 30.33 L438.07 29.13 L438.24 27.93 L438.41 26.74 L438.58 25.54 L438.74 24.34 L438.91 23.15 L439.07 21.96 L439.23 20.76 L439.40 19.57 L439.56 18.38 L439.73 17.19 L439.90 16.00" fill="none" stroke="#00ff00" stroke-width="0.9" stroke-dasharray="2.0 0.7" />
<path d="M86.10 37.40 L86.97 38.25 L87.85 39.09 L88.72 39.93 L89.61 40.76 L90.50 41.59 L91.39 42.41 L92.28 43.23 L93.18 44.04 L94.08 44.85 L94.99 45.65 L95.90 46.45 L96.81 47.24 L97.73 48.03 L98.65 48.81 L99.58 49.59 L100.51 50.36 L101.44 51.13 L102.37 51.90 L103.31 52.66 L104.25 53.42 L105.20 54.17 L106.15 54.92 L107.10 55.67 L108.05 56.41 L109.01 57.15 L109.97 57.88 L110.93 58.61 L111.90 59.34 L112.87 60.06 L113.84 60.78 L114.81 61.50 L115.79 62.21 L116.77 62.92 L117.75 63.62 L118.73 64.33 L119.72 65.03 L120.71 65.72 L121.70 66.42 L122.69 67.11 L123.69 67.79 L124.69 68.48 L125.69 69.16 L126.69 69.84 L127.70 70.52 L128.70 71.19 L129.71 71.86 L130.72 72.53 L131.73 73.20 L132.75 73.86 L133.76 74.53 L134.78 75.19 L135.80 75.84 L136.82 76.50 L137.84 77.15 L138.86 77.80 L139.89 78.45 L140.91 79.10 L141.94 79.75 L142.97 80.39 L144.00 81.04 L145.03 81.68 L146.06 82.32 L147.09 82.96 L148.13 83.59 L149.16 84.23 L150.20 84.87 L151.23 85.50 L152.27 86.13 L153.31 86.76 L154.35 87.39 L155.39 88.02 L156.43 88.65 L157.47 89.28 L158.51 89.91 L159.55 90.53 L160.59 91.16 L161.63 91.79 L162.68 92.41 L163.72 93.04 L164.76 93.66 L165.80 94.29 L166.85 94.91 L167.89 95.53 L168.93 96.16 L169.97 96.78 L171.02 97.40 L172.06 98.03 L173.10 98.65 L174.14 99.28 L175.18 99.90 L176.22 100.53 L177.26 101.15 L178.30 101.78 L179.34 102.40 L180.38 103.03 L181.42 103.66 L182.46 104.29 L183.49 104.92 L184.53 105.55 L185.56 106.18 L186.60 106.81 L187.63 107.45 L188.66 108.08 L189.69 108.72 L190.72 109.35 L191.75 109.99 L192.78 110.63 L193.80 111.27 L194.83 111.92 L195.85 112.56 L196.87 113.21 L197.89 113.85 L198.91 114.50 L199.93 115.16 L200.94 115.81 L201.95 116.46 L202.97 117.12 L203.98 117.78 L204.98 118.44 L205.99 119.11 L206.99 119.77 L208.00 120.44 L209.00 121.11 L209.99 121.79 L210.99 122.46 L211.98 123.14 L212.97 123.82 L213.96 124.51 L214.95 125.19 L215.93 125.88 L216.92 126.58 L217.89 127.27 L218.87 127.97 L219.84 128.67 L220.82 129.38 L221.78 130.09 L222.75 130.80 L223.71 131.51 L224.67 132.23 L225.63 132.96 L226.58 133.68 L227.53 134.41 L228.48 135.14 L229.42 135.88 L230.37 136.62 L231.30 137.37 L232.24 138.12 L233.17 138.87 L234.10 139.63 L235.02 140.39 L235.94 141.15 L236.86 141.92 L237.77 142.70 L238.68 143.47 L239.59 144.26 L240.49 145.04 L241.39 145.84 L242.28 146.63 L243.17 147.43 L244.06 148.24 L244.94 149.05 L245.82 149.87 L246.70 150.69 L247.57 151.51 L248.43 152.35 L249.29 153.18 L250.15 154.02 L251.00 154.87 L251.85 155.72 L252.70 156.58 L253.53 157.44 L254.37 158.31 L255.20 159.19 L256.02 160.07 L256.84 160.95 L257.66 161.85 L258.47 162.74 L259.28 163.65 L260.08 164.56 L260.87 165.47 L261.66 166.39 L262.45 167.32 L263.23 168.26 L264.00 169.20 L264.77 170.15 L265.54 171.10 L266.30 172.06 L267.05 173.03 L267.80 174.00 L312.70 186.50 L313.26 185.38 L313.83 184.27 L314.41 183.17 L315.00 182.08 L315.60 181.00 L316.21 179.93 L316.84 178.87 L317.47 177.83 L318.12 176.79 L318.78 175.77 L319.44 174.75 L320.12 173.74 L320.81 172.75 L321.50 171.76 L322.21 170.78 L322.93 169.81 L323.65 168.85 L324.38 167.90 L325.13 166.95 L325.88 166.02 L326.64 165.09 L327.41 164.17 L328.18 163.26 L328.97 162.36 L329.76 161.46 L330.56 160.57 L331.36 159.69 L332.18 158.81 L333.00 157.94 L333.83 157.08 L334.66 156.23 L335.50 155.38 L336.35 154.53 L337.21 153.70 L338.06 152.86 L338.93 152.04 L339.80 151.22 L340.68 150.40 L341.56 149.59 L342.45 148.78 L343.34 147.98 L344.24 147.18 L345.14 146.39 L346.05 145.60 L346.96 144.81 L347.87 144.03 L348.79 143.25 L349.71 142.48 L350.64 141.71 L351.57 140.94 L352.50 140.17 L353.43 139.41 L354.37 138.65 L355.31 137.89 L356.25 137.14 L357.20 136.38 L358.15 135.63 L359.10 134.88 L360.05 134.13 L361.00 133.38 L361.96 132.63 L362.91 131.89 L363.87 131.14 L364.83 130.40 L365.78 129.65 L366.74 128.91 L367.70 128.16 L368.66 127.42 L369.62 126.67 L370.58 125.93 L371.54 125.18 L372.50 124.44 L373.46 123.69 L374.41 122.94 L375.37 122.19 L376.33 121.44 L377.28 120.68 L378.23 119.93 L379.18 119.17 L380.13 118.41 L381.08 117.65 L382.02 116.88 L382.96 116.11 L383.90 115.34 L384.84 114.57 L385.77 113.79 L386.70 113.01 L387.62 112.23 L388.55 111.44 L389.47 110.65 L390.38 109.86 L391.29 109.06 L392.20 108.26 L393.10 107.46 L394.00 106.65 L394.89 105.83 L395.78 105.01 L396.66 104.19 L397.53 103.36 L398.40 102.53 L399.27 101.70 L400.13 100.85 L400.98 100.01 L401.83 99.15 L402.67 98.29 L403.50 97.43 L404.32 96.56 L405.14 95.69 L405.95 94.81 L406.76 93.92 L407.55 93.02 L408.34 92.12 L409.12 91.22 L409.89 90.31 L410.66 89.39 L411.41 88.46 L412.16 87.53 L412.89 86.59 L413.62 85.64 L414.34 84.68 L415.05 83.72 L415.75 82.75 L416.44 81.78 L417.12 80.80 L417.79 79.81 L418.45 78.82 L419.10 77.81 L419.75 76.81 L420.38 75.79 L421.00 74.77 L421.61 73.74 L422.22 72.71 L422.81 71.67 L423.39 70.63 L423.96 69.58 L424.53 68.52 L425.08 67.46 L425.62 66.39 L426.15 65.32 L426.67 64.24 L427.18 63.15 L427.68 62.06 L428.17 60.97 L428.65 59.86 L429.12 58.76 L429.57 57.65 L430.02 56.53 L430.46 55.41 L430.88 54.28 L431.29 53.15 L431.69 52.01 L432.08 50.87 L432.46 49.73 L432.83 48.57 L433.18 47.42 L433.53 46.26 L433.86 45.09 L434.18 43.93 L434.49 42.75 L434.79 41.58 L435.07 40.39 L435.35 39.21 L435.61 38.02 L435.86 36.83 L436.10 35.63 L436.32 34.43 L436.54 33.22 L436.74 32.01 L436.93 30.80 L437.10 29.59 L437.27 28.37 L437.42 27.15 L437.56 25.92 L437.68 24.69 L437.79 23.46 L437.89 22.22 L437.98 20.98 L438.06 19.74 L438.12 18.50 L438.16 17.25 L438.20 16.00" fill="none" stroke="#ff00ff" stroke-width="0.95" stroke-dasharray="0.9 1.7 0.9 4.3" />
<path d="M86.10 26.30 L87.31 27.24 L88.52 28.18 L89.72 29.11 L90.93 30.02 L92.14 30.93 L93.35 31.84 L94.56 32.73 L95.76 33.61 L96.97 34.49 L98.18 35.36 L99.39 36.22 L100.60 37.07 L101.80 37.92 L103.01 38.75 L104.22 39.58 L105.43 40.41 L106.64 41.24 L107.84 42.07 L109.05 42.89 L110.26 43.70 L111.47 44.50 L112.68 45.30 L113.88 46.09 L115.09 46.87 L116.30 47.64 L117.51 48.41 L118.72 49.17 L119.92 49.93 L121.13 50.67 L122.34 51.41 L123.55 52.15 L124.76 52.88 L125.96 53.60 L127.17 54.31 L128.38 55.02 L129.59 55.72 L130.80 56.42 L132.00 57.11 L133.21 57.79 L134.42 58.47 L135.63 59.15 L136.84 59.81 L138.04 60.47 L139.25 61.13 L140.46 61.78 L141.67 62.42 L142.88 63.06 L144.08 63.69 L145.29 64.32 L146.50 64.94 L147.71 65.56 L148.91 66.17 L150.12 66.78 L151.33 67.39 L152.54 68.00 L153.75 68.61 L154.95 69.21 L156.16 69.80 L157.37 70.39 L158.58 70.98 L159.79 71.56 L160.99 72.13 L162.20 72.71 L163.41 73.27 L164.62 73.84 L165.83 74.40 L167.03 74.95 L168.24 75.50 L169.45 76.05 L170.66 76.59 L171.87 77.13 L173.07 77.66 L174.28 78.19 L175.49 78.72 L176.70 79.24 L177.91 79.76 L179.11 80.28 L180.32 80.79 L181.53 81.31 L182.74 81.83 L183.95 82.34 L185.15 82.85 L186.36 83.35 L187.57 83.86 L188.78 84.35 L189.99 84.85 L191.19 85.34 L192.40 85.83 L193.61 86.32 L194.82 86.80 L196.03 87.28 L197.23 87.76 L198.44 88.24 L199.65 88.71 L200.86 89.18 L202.07 89.65 L203.27 90.11 L204.48 90.57 L205.69 91.03 L206.90 91.49 L208.11 91.94 L209.31 92.40 L210.52 92.85 L211.73 93.29 L212.94 93.74 L214.15 94.18 L215.35 94.62 L216.56 95.04 L217.77 95.46 L218.98 95.88 L220.19 96.30 L221.39 96.72 L222.60 97.13 L223.81 97.54 L225.02 97.96 L226.23 98.36 L227.43 98.77 L228.64 99.18 L229.85 99.58 L231.06 99.98 L232.27 100.38 L233.47 100.78 L234.68 101.17 L235.89 101.57 L237.10 101.96 L238.31 102.35 L239.51 102.74 L240.72 103.13 L241.93 103.52 L243.14 103.91 L244.35 104.29 L245.55 104.67 L246.76 105.05 L247.97 105.43 L249.18 105.81 L250.39 106.19 L251.59 106.57 L252.80 106.94 L254.01 107.32 L255.22 107.69 L256.43 108.06 L257.63 108.43 L258.84 108.80 L260.05 109.17 L261.26 109.53 L262.46 109.90 L263.67 110.26 L264.88 110.63 L266.09 110.99 L267.30 111.35 L268.50 111.70 L269.71 112.02 L270.92 112.35 L272.13 112.68 L273.34 113.00 L274.54 113.33 L275.75 113.65 L276.96 113.97 L278.17 114.29 L279.38 114.61 L280.58 114.93 L281.79 115.25 L283.00 115.56 L284.21 115.88 L285.42 116.19 L286.62 116.51 L287.83 116.82 L289.04 117.13 L290.25 117.44 L291.46 117.75 L292.66 118.06 L293.87 118.37 L295.08 118.67 L296.29 118.98 L297.50 119.28 L298.70 119.58 L299.91 119.88 L301.12 120.18 L302.33 120.48 L303.54 120.77 L304.74 121.07 L305.95 121.36 L307.16 121.65 L308.37 121.95 L309.58 122.24 L310.78 122.53 L311.99 122.81 L313.20 123.10 L314.28 122.68 L315.36 122.27 L316.44 121.86 L317.53 121.45 L318.62 121.04 L319.72 120.63 L320.82 120.23 L321.92 119.82 L323.03 119.42 L324.13 119.02 L325.24 118.61 L326.36 118.21 L327.47 117.81 L328.59 117.37 L329.71 116.89 L330.83 116.42 L331.95 115.94 L333.07 115.46 L334.20 114.99 L335.33 114.51 L336.45 114.03 L337.58 113.55 L338.71 113.07 L339.84 112.58 L340.97 112.10 L342.10 111.61 L343.23 111.12 L344.37 110.63 L345.50 110.14 L346.63 109.65 L347.76 109.16 L348.89 108.67 L350.02 108.18 L351.14 107.68 L352.27 107.18 L353.40 106.68 L354.52 106.17 L355.65 105.66 L356.77 105.14 L357.89 104.62 L359.00 104.10 L360.12 103.57 L361.23 103.04 L362.34 102.51 L363.45 101.97 L364.56 101.42 L365.66 100.88 L366.76 100.34 L367.86 99.80 L368.95 99.25 L370.04 98.69 L371.13 98.13 L372.21 97.57 L373.29 97.00 L374.37 96.42 L375.44 95.83 L376.50 95.24 L377.56 94.64 L378.62 94.04 L379.67 93.43 L380.72 92.81 L381.76 92.19 L382.80 91.55 L383.83 90.91 L384.86 90.27 L385.88 89.61 L386.89 88.95 L387.90 88.28 L388.90 87.60 L389.90 86.91 L390.89 86.22 L391.87 85.52 L392.85 84.81 L393.82 84.09 L394.78 83.36 L395.74 82.63 L396.68 81.89 L397.62 81.14 L398.56 80.38 L399.48 79.62 L400.40 78.85 L401.31 78.07 L402.21 77.28 L403.10 76.48 L403.99 75.68 L404.86 74.86 L405.73 74.04 L406.59 73.21 L407.43 72.38 L408.27 71.53 L409.10 70.68 L409.92 69.82 L410.73 68.95 L411.54 68.07 L412.33 67.18 L413.11 66.29 L413.88 65.39 L414.64 64.48 L415.39 63.56 L416.13 62.63 L416.86 61.69 L417.57 60.75 L418.28 59.80 L418.98 58.84 L419.66 57.87 L420.33 56.89 L420.99 55.91 L421.64 54.91 L422.28 53.91 L422.90 52.90 L423.51 51.88 L424.11 50.85 L424.70 49.82 L425.28 48.77 L425.84 47.72 L426.39 46.66 L426.92 45.59 L427.44 44.51 L427.95 43.42 L428.45 42.32 L428.93 41.22 L429.39 40.11 L429.85 38.98 L430.29 37.85 L430.71 36.71 L431.12 35.57 L431.52 34.41 L431.90 33.24 L432.27 32.07 L432.62 30.89 L432.95 29.70 L433.27 28.49 L433.58 27.29 L433.87 26.07 L434.14 24.84 L434.40 23.60 L434.64 22.36 L434.86 21.10 L435.07 19.84 L435.27 18.57 L435.44 17.29 L435.60 16.00" fill="none" stroke="#0000ff" stroke-width="1.1" stroke-dasharray="2.5 1.3 0.7 2.0" />
<path d="M91.80 16.00 L93.01 17.03 L94.22 18.05 L95.43 19.05 L96.64 20.04 L97.85 21.03 L99.06 21.99 L100.27 22.95 L101.48 23.90 L102.69 24.84 L103.90 25.76 L105.11 26.67 L106.32 27.55 L107.53 28.42 L108.74 29.28 L109.95 30.12 L111.16 30.96 L112.37 31.79 L113.58 32.61 L114.79 33.43 L116.00 34.23 L117.21 35.02 L118.42 35.81 L119.63 36.59 L120.84 37.36 L122.05 38.13 L123.26 38.88 L124.47 39.63 L125.68 40.37 L126.89 41.11 L128.10 41.84 L129.30 42.56 L130.51 43.28 L131.72 43.98 L132.93 44.69 L134.14 45.38 L135.35 46.08 L136.56 46.79 L137.77 47.49 L138.98 48.18 L140.19 48.87 L141.40 49.55 L142.61 50.23 L143.82 50.90 L145.03 51.57 L146.24 52.23 L147.45 52.89 L148.66 53.55 L149.87 54.20 L151.08 54.84 L152.29 55.48 L153.50 56.12 L154.71 56.75 L155.92 57.38 L157.13 58.01 L158.34 58.63 L159.55 59.24 L160.76 59.86 L161.97 60.47 L163.18 61.07 L164.39 61.68 L165.60 62.26 L166.81 62.84 L168.02 63.41 L169.23 63.98 L170.44 64.55 L171.65 65.11 L172.86 65.67 L174.07 66.23 L175.28 66.78 L176.49 67.33 L177.70 67.88 L178.91 68.43 L180.12 68.97 L181.33 69.51 L182.54 70.05 L183.75 70.58 L184.96 71.12 L186.17 71.65 L187.38 72.17 L188.59 72.70 L189.80 73.22 L191.01 73.74 L192.22 74.26 L193.43 74.78 L194.64 75.29 L195.85 75.80 L197.06 76.31 L198.27 76.82 L199.48 77.32 L200.69 77.82 L201.90 78.32 L203.10 78.82 L204.31 79.32 L205.52 79.81 L206.73 80.30 L207.94 80.79 L209.15 81.28 L210.36 81.77 L211.57 82.25 L212.78 82.73 L213.99 83.21 L215.20 83.69 L216.41 84.16 L217.62 84.62 L218.83 85.08 L220.04 85.54 L221.25 85.99 L222.46 86.45 L223.67 86.90 L224.88 87.35 L226.09 87.80 L227.30 88.25 L228.51 88.70 L229.72 89.14 L230.93 89.59 L232.14 90.03 L233.35 90.47 L234.56 90.90 L235.77 91.34 L236.98 91.77 L238.19 92.21 L239.40 92.64 L240.61 93.07 L241.82 93.50 L243.03 93.92 L244.24 94.35 L245.45 94.78 L246.66 95.23 L247.87 95.68 L249.08 96.12 L250.29 96.57 L251.50 97.01 L252.71 97.45 L253.92 97.89 L255.13 98.33 L256.34 98.77 L257.55 99.21 L258.76 99.64 L259.97 100.08 L261.18 100.51 L262.39 100.94 L263.60 101.37 L264.81 101.80 L266.02 102.23 L267.23 102.65 L268.44 103.07 L269.65 103.48 L270.86 103.88 L272.07 104.29 L273.28 104.69 L274.49 105.09 L275.70 105.50 L276.90 105.90 L278.11 106.30 L279.32 106.70 L280.53 107.10 L281.74 107.49 L282.95 107.89 L284.16 108.29 L285.37 108.68 L286.58 109.08 L287.79 109.48 L289.00 109.87 L290.21 110.27 L291.42 110.66 L292.63 111.06 L293.84 111.45 L295.05 111.84 L296.26 112.24 L297.47 112.63 L298.68 113.01 L299.89 113.37 L301.10 113.73 L302.31 114.10 L303.52 114.46 L304.73 114.82 L305.94 115.19 L307.15 115.55 L308.36 115.92 L309.57 116.28 L310.78 116.65 L311.99 117.02 L313.20 117.41 L314.41 117.74 L315.62 118.08 L316.83 118.41 L318.04 118.74 L319.26 119.08 L320.47 119.41 L321.68 119.74 L322.89 120.07 L324.10 120.40 L325.31 120.73 L326.52 121.05 L327.73 121.38 L328.94 121.69 L330.16 122.00 L331.37 122.30 L332.58 122.61 L333.79 122.91 L335.00 123.22 L336.21 123.52 L337.42 123.82 L338.63 124.12 L339.84 124.42 L341.06 124.72 L342.27 125.02 L343.48 125.32 L344.69 125.61 L345.90 125.88 L347.11 126.14 L348.32 126.40 L349.53 126.65 L350.74 126.91 L351.96 127.16 L353.17 127.42 L354.38 127.67 L355.59 127.92 L356.80 128.17 L358.01 128.42 L359.22 128.67 L360.43 128.92 L361.64 129.17 L362.86 129.42 L364.07 129.66 L365.28 129.91 L366.49 130.15 L367.70 130.39 L368.91 130.64 L370.12 130.88 L371.33 131.12 L372.54 131.36 L373.76 131.60 L374.97 131.84 L376.18 132.07 L377.39 132.31 L378.60 132.55 L379.81 132.78 L381.02 133.02 L382.23 133.25 L383.44 133.49 L384.66 133.72 L385.87 133.95 L387.08 134.18 L388.29 134.41 L389.50 134.64 L390.71 134.87 L391.92 135.09 L393.13 135.32 L394.34 135.55 L395.56 135.78 L396.77 136.03 L397.98 136.27 L399.19 136.51 L400.40 136.75 L401.61 137.00 L402.82 137.24 L404.03 137.48 L405.24 137.72 L406.46 137.95 L407.67 138.19 L408.88 138.43 L410.09 138.66 L411.30 138.90 L412.51 139.13 L413.72 139.36 L414.93 139.59 L416.14 139.83 L417.36 140.06 L418.57 140.28 L419.78 140.51 L420.99 140.74 L422.20 140.97 L423.41 141.19 L424.62 141.42 L425.83 141.64 L427.04 141.87 L428.26 142.09 L429.47 142.31 L430.68 142.53 L431.89 142.75 L433.10 142.97 L434.31 143.19 L435.52 143.40 L436.73 143.62 L437.94 143.84 L439.16 144.05 L440.37 144.26 L441.58 144.48 L442.79 144.69 L444.00 144.90" fill="none" stroke="#000000" stroke-width="1.05"  />
</g>
<text transform="translate(87.60 300.20) scale(0.93 1)" text-anchor="middle" class="t">0.2</text>
<text transform="translate(132.30 300.20) scale(0.93 1)" text-anchor="middle" class="t">0.3</text>
<text transform="translate(177.00 300.20) scale(0.93 1)" text-anchor="middle" class="t">0.4</text>
<text transform="translate(221.70 300.20) scale(0.93 1)" text-anchor="middle" class="t">0.5</text>
<text transform="translate(266.40 300.20) scale(0.93 1)" text-anchor="middle" class="t">0.6</text>
<text transform="translate(311.10 300.20) scale(0.93 1)" text-anchor="middle" class="t">0.7</text>
<text transform="translate(355.80 300.20) scale(0.93 1)" text-anchor="middle" class="t">0.8</text>
<text transform="translate(400.50 300.20) scale(0.93 1)" text-anchor="middle" class="t">0.9</text>
<text transform="translate(445.20 300.20) scale(0.93 1)" text-anchor="middle" class="t">1</text>
<text transform="translate(78.40 287.60) scale(0.93 1)" text-anchor="end" class="t">1</text>
<text transform="translate(78.40 198.43) scale(0.93 1)" text-anchor="end" class="t">10</text>
<text transform="translate(78.40 109.27) scale(0.93 1)" text-anchor="end" class="t">100</text>
<text transform="translate(78.40 20.10) scale(0.93 1)" text-anchor="end" class="t">1000</text>
<text transform="translate(263.50 319.10) scale(0.93 1)" text-anchor="middle" class="t">e</text>
<text transform="translate(29.00 171.90) rotate(-90) scale(0.93 1)" text-anchor="start" class="t">t<tspan dy="3.3" font-size="11">rr</tspan><tspan dy="-3.3"> [Myr]</tspan></text>
</svg>
</body></html>
